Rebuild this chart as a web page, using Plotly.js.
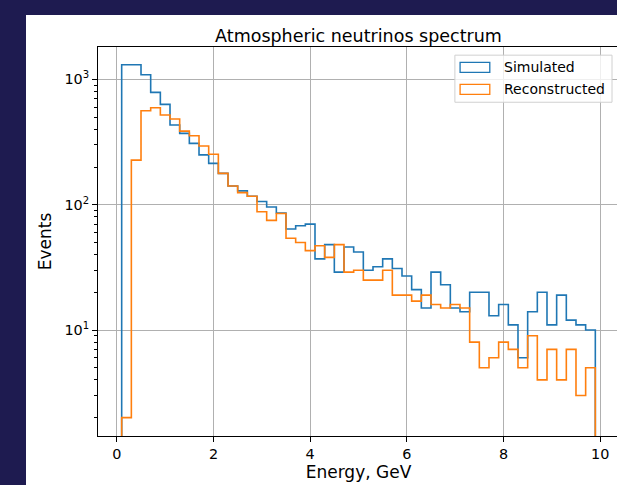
<!DOCTYPE html>
<html>
<head>
<meta charset="utf-8">
<script src="https://cdn.plot.ly/plotly-3.0.1.min.js"></script>
<style>
  html, body { margin: 0; padding: 0; width: 617px; height: 485px; overflow: hidden; background: #1e1b50; }
  #plot { position: absolute; left: 26px; top: 15px; width: 640px; height: 470px; }
</style>
</head>
<body>
<div id="plot"></div>
<script>
// Histogram binning (49 bins of 0.2 GeV from 0.1 to 9.9 GeV)
const binStart = 0.1;
const binWidth = 0.2;

// Events per bin
const simulated = [1310, 1310, 1090, 789, 633, 433, 371, 309, 250, 214,
                   178, 141, 129, 117, 106, 96, 86, 64, 68, 70,
                   37, 48, 29, 46, 42, 30, 32, 37, 31, 27,
                   21, 15, 29, 23, 15, 14, 20, 20, 13, 16,
                   11, 6, 14, 20, 11, 19, 12, 11, 10];
const reconstructed = [2, 227, 562, 594, 520, 483, 387, 355, 294, 253,
                       178, 141, 125, 117, 88, 75, 85, 54, 50, 43,
                       47, 38, 48, 29, 30, 25, 25, 30, 19, 19,
                       17, 19, 16, 15, 16, 15, 8, 5, 6, 8,
                       7, 5, 9, 4, 7, 4, 7, 3, 5];

const seriesNames = ["Simulated", "Reconstructed"];
const seriesColors = ["#1f77b4", "#ff7f0e"];

const xTickVals = [0, 2, 4, 6, 8, 10];
const xTickText = ["0", "2", "4", "6", "8", "10"];
const yTickVals = [10, 100, 1000];
const yTickText = ["10<sup>1</sup>", "10<sup>2</sup>", "10<sup>3</sup>"];
const yMinorTickVals = [2, 3, 4, 5, 6, 7, 8, 9,
                        20, 30, 40, 50, 60, 70, 80, 90,
                        200, 300, 400, 500, 600, 700, 800, 900];

const floorVal = 0.01; // below visible range: outline drops to the axis

function stepTrace(counts, name, color) {
  const n = counts.length;
  const edges = [];
  for (let i = 0; i <= n; i++) edges.push(+(binStart + i * binWidth).toFixed(4));
  const x = [edges[0]];
  const y = [floorVal];
  for (let i = 0; i < n; i++) { x.push(edges[i]); y.push(counts[i]); }
  x.push(edges[n]); y.push(counts[n - 1]);
  x.push(edges[n]); y.push(floorVal);
  return {
    type: "scatter", mode: "lines", x: x, y: y, name: name,
    line: { shape: "hv", color: color, width: 1.6 },
    showlegend: false, hoverinfo: "skip"
  };
}

const traces = [
  stepTrace(simulated, seriesNames[0], seriesColors[0]),
  stepTrace(reconstructed, seriesNames[1], seriesColors[1])
];

// Custom legend with rectangle patches (matplotlib style)
const lg = { x0: 0.685, x1: 0.9866, y0: 0.858, y1: 0.979 };
const patchX = [0.695, 0.752];
const patchY = [[0.935, 0.9607], [0.878, 0.904]];
const textY = [0.949, 0.892];

const shapes = [
  { type: "rect", xref: "paper", yref: "paper", x0: lg.x0, x1: lg.x1, y0: lg.y0, y1: lg.y1,
    line: { color: "#d0d0d0", width: 1 }, fillcolor: "rgba(255,255,255,0.8)", layer: "above" }
];
const annotations = [];
for (let k = 0; k < 2; k++) {
  shapes.push({ type: "rect", xref: "paper", yref: "paper",
    x0: patchX[0], x1: patchX[1], y0: patchY[k][0], y1: patchY[k][1],
    line: { color: seriesColors[k], width: 1.3 }, fillcolor: "rgba(0,0,0,0)", layer: "above" });
  annotations.push({ xref: "paper", yref: "paper", x: 0.776, y: textY[k],
    xanchor: "left", yanchor: "middle", text: seriesNames[k], showarrow: false,
    font: { family: "DejaVu Sans", size: 14, color: "#000" } });
}

const yRange = [0.154, 3.259];

const layout = {
  width: 640, height: 470,
  margin: { l: 72, r: 47, t: 32, b: 49 },
  paper_bgcolor: "#ffffff", plot_bgcolor: "#ffffff",
  font: { family: "DejaVu Sans", size: 14, color: "#000" },
  title: { text: "Atmospheric neutrinos spectrum", x: 0.5, xref: "paper", xanchor: "center",
           y: 1, yref: "paper", yanchor: "bottom", pad: { b: 5 },
           font: { family: "DejaVu Sans", size: 17.5, color: "#000" } },
  xaxis: {
    range: [-0.39, 10.39], tickvals: xTickVals, ticktext: xTickText,
    ticks: "outside", ticklen: 5, tickwidth: 1, tickcolor: "#000",
    showline: true, mirror: true, linecolor: "#000", linewidth: 1,
    showgrid: true, gridcolor: "#b0b0b0", gridwidth: 1, zeroline: false,
    title: { text: "Energy, GeV", font: { family: "DejaVu Sans", size: 17, color: "#000" }, standoff: 4 },
    tickfont: { family: "DejaVu Sans", size: 14.4, color: "#000" }
  },
  yaxis: {
    type: "log", range: yRange, tickmode: "array", tickvals: yTickVals, ticktext: yTickText,
    ticks: "outside", ticklen: 5, tickwidth: 1, tickcolor: "#000",
    showline: true, mirror: true, linecolor: "#000", linewidth: 1,
    showgrid: true, gridcolor: "#b0b0b0", gridwidth: 1, zeroline: false,
    minor: { tickmode: "array", tickvals: yMinorTickVals, ticks: "outside",
             ticklen: 3.5, tickwidth: 1, tickcolor: "#000", showgrid: false },
    title: { text: "Events", font: { family: "DejaVu Sans", size: 17, color: "#000" }, standoff: 8 },
    tickfont: { family: "DejaVu Sans", size: 14.4, color: "#000" }
  },
  shapes: shapes,
  annotations: annotations,
  showlegend: false
};

Plotly.newPlot("plot", traces, layout, { staticPlot: true, displayModeBar: false });
</script>
</body>
</html>
